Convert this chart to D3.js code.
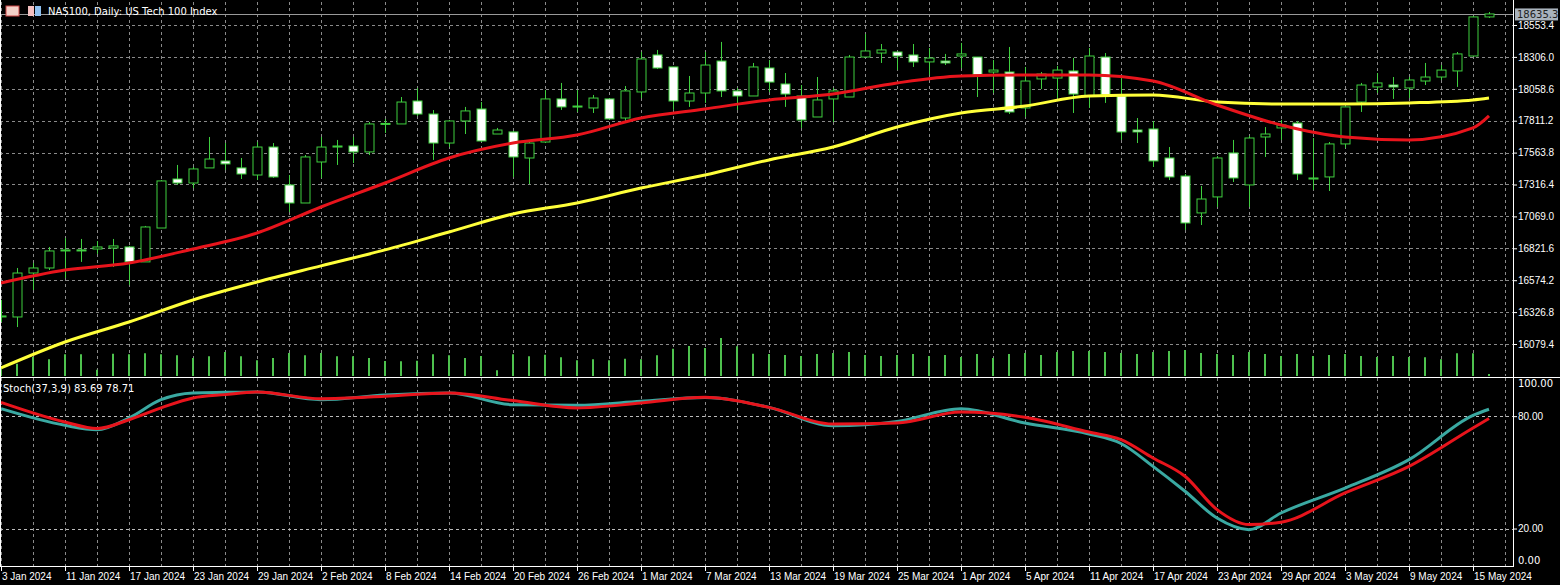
<!DOCTYPE html>
<html>
<head>
<meta charset="utf-8">
<script src="https://cdn.jsdelivr.net/npm/d3@7"></script>
<style>
body { margin: 0; background: #000; }
svg { display: block; font-family: "DejaVu Sans", sans-serif; }
</style>
</head>
<body>
<svg id="chart" width="1560" height="585"></svg>
<script>
// tages-kerzen NAS100, 5 Jan - 16 May 2024
let opens  = [16289,16289,16630,16669,16801,16809,16816,16824,16832,16716,16979,17359,17328,17445,17499,17445,17390,17607,17313,17173,
	17491,17607,17615,17569,17786,17786,17964,17863,17638,17809,17902,17708,17724,17522,17646,17980,17925,17910,17980,17832,
	18034,18321,18228,17964,18026,18274,18042,18003,18220,18096,18003,17840,17980,17995,18305,18336,18344,18321,18267,18274,
	18313,18305,18189,18189,17910,18135,18142,18197,18003,18305,18003,17739,17747,17522,17382,17096,17220,17561,17313,17685,
	17755,17793,17359,17375,17631,17956,18073,18088,18065,18119,18150,18197,18313,18616];
let highs  = [16421,16669,16708,16832,16902,16894,16878,16894,16840,16995,17351,17468,17452,17685,17638,17522,17646,17638,17390,17545,
	17685,17662,17685,17801,17825,17995,18065,17894,17817,17918,17956,17755,17731,17646,18049,18104,18049,18011,17987,18080,
	18344,18360,18228,18158,18344,18422,18065,18259,18282,18181,18088,18150,18065,18321,18484,18406,18344,18406,18375,18329,
	18414,18305,18282,18383,18228,18189,18236,18298,18375,18336,18142,17832,17809,17607,17398,17305,17537,17662,17693,17762,
	17817,17809,17677,17646,17925,18104,18181,18150,18150,18259,18243,18344,18623,18654];
let lows   = [16250,16211,16498,16653,16591,16716,16778,16677,16537,16716,16979,17313,17289,17445,17429,17359,17351,17367,17103,17173,
	17367,17468,17483,17545,17716,17786,17848,17507,17607,17708,17646,17708,17374,17320,17638,17895,17879,17871,17817,17809,
	17987,18212,17895,17918,17949,17995,17895,18003,18034,17918,17755,17840,17801,17995,18305,18259,18204,18228,18166,18243,
	18220,17995,18026,17863,17840,18057,17987,17871,17910,17949,17662,17638,17452,17351,16964,17002,17142,17336,17142,17530,
	17662,17351,17274,17266,17600,17879,18026,17980,17987,18088,18127,18073,18313,18608];
let closes = [16297,16630,16669,16801,16809,16801,16832,16840,16716,16987,17344,17328,17437,17514,17476,17398,17607,17375,17173,17530,
	17607,17615,17569,17786,17790,17956,17863,17638,17809,17887,17654,17739,17530,17638,17980,17918,17921,17987,17825,18042,
	18290,18220,17964,18026,18243,18042,18003,18228,18111,18018,17817,17972,18042,18305,18352,18360,18313,18267,18297,18259,
	18329,18166,18204,17879,18119,18173,18204,18018,18313,18011,17724,17724,17499,17375,17018,17204,17522,17367,17677,17708,
	17778,17398,17367,17631,17918,18088,18104,18073,18127,18150,18204,18329,18616,18639];
let volumes = [30,37,57,50,65,65,19,67,65,68,65,62,54,59,72,59,47,54,69,62,69,59,59,54,45,44,46,65,62,54,60,17,65,59,64,56,47,50,47,52,
	50,62,82,90,84,114,89,67,66,63,60,66,69,72,63,60,63,66,60,63,57,66,54,66,69,63,72,75,75,72,69,66,72,75,78,69,66,63,72,66,
	60,66,60,63,66,60,57,60,57,56,50,68,68,6];

let maIdx = [0,4,8,12,16,20,24,28,32,36,40,44,48,52,56,60,64,68,72,76,80,84,88,92,93];
let maRed = [16553,16653,16708,16816,16940,17142,17328,17522,17638,17700,17832,17902,17972,18018,18104,18158,18166,18166,18119,17933,17778,17685,17662,17755,17848];
let maYellow = [15894,16095,16250,16421,16560,16685,16809,16948,17088,17173,17289,17390,17507,17607,17762,17871,17925,18003,18011,17956,17941,17941,17949,17972,17987];

// stochastik
let stIdx = [0,4,6,8,10,12,14,16,20,24,28,32,36,40,44,48,52,56,60,64,68,70,72,74,76,78,80,84,88,92,93];
let stMain = [84.0,75.1,72.8,79.0,88.8,92.4,92.7,92.9,88.8,91.3,92.4,86.1,85.8,87.9,89.9,84.7,74.9,77.2,84.0,76.3,70.5,65.4,53.2,39.9,25.6,19.4,28.3,41.6,56.8,80.4,83.69];
let stSignal = [87.4,76.9,73.4,78.1,84.4,89.7,91.5,92.9,89.3,90.6,92.4,88.3,84.4,87.0,90.1,84.7,75.8,76.3,82.2,79.4,71.5,67.5,57.7,47.9,30.1,22.1,23.4,39.0,53.2,73.7,78.71];

let priceTicks = [18553.4,18306.0,18058.6,17811.2,17563.8,17316.4,17069.0,16821.6,16574.2,16326.8,16079.4];
let stochTicks = [100,80,20,0];
let dateLabels = ["3 Jan 2024","11 Jan 2024","17 Jan 2024","23 Jan 2024","29 Jan 2024","2 Feb 2024","8 Feb 2024","14 Feb 2024",
	"20 Feb 2024","26 Feb 2024","1 Mar 2024","7 Mar 2024","13 Mar 2024","19 Mar 2024","25 Mar 2024","1 Apr 2024","5 Apr 2024",
	"11 Apr 2024","17 Apr 2024","23 Apr 2024","29 Apr 2024","3 May 2024","9 May 2024","15 May 2024"];
let lastPrice = 18635.3;

let svg = d3.select("#chart");
let plotRight = 1513;
let green = "#3fcf3f";
let gridCol = "#8a8a8a";
let labelFont = "Liberation Sans";

let x = d3.scaleLinear().domain([0, 1]).range([1, 17]);
let y = d3.scaleLinear().domain([16079.4, 18553.4]).range([344, 25]);
let yv = d3.scaleLinear().domain([0, 120]).range([376, 336]);
let ys = d3.scaleLinear().domain([0, 100]).range([566, 378.7]);

svg.append("clipPath").attr("id", "cm").append("rect").attr("x", 0).attr("y", 2).attr("width", plotRight).attr("height", 374);
svg.append("clipPath").attr("id", "cs").append("rect").attr("x", 0).attr("y", 378).attr("width", plotRight).attr("height", 188);

let main = svg.append("g").attr("clip-path", "url(#cm)");
let stoch = svg.append("g").attr("clip-path", "url(#cs)");

//Gitter senkrecht
let vIdx = d3.range(0, 95, 2);
[[main, 2, 376], [stoch, 378, 566]].forEach(function(p) {
	p[0].selectAll(".vgrid").data(vIdx).enter().append("line")
		.attr("x1", function(d) {return Math.round(x(d)) + 0.5;})
		.attr("x2", function(d) {return Math.round(x(d)) + 0.5;})
		.attr("y1", p[1]).attr("y2", p[2])
		.attr("stroke", gridCol).attr("stroke-dasharray", "3,3");
});
//Gitter waagrecht
main.selectAll(".hgrid").data(priceTicks).enter().append("line")
	.attr("x1", 0).attr("x2", plotRight)
	.attr("y1", function(d) {return Math.round(y(d)) + 0.5;})
	.attr("y2", function(d) {return Math.round(y(d)) + 0.5;})
	.attr("stroke", gridCol).attr("stroke-dasharray", "3,3");
stoch.selectAll(".hgrid").data([80, 20]).enter().append("line")
	.attr("x1", 0).attr("x2", plotRight)
	.attr("y1", function(d) {return Math.round(ys(d)) + 0.5;})
	.attr("y2", function(d) {return Math.round(ys(d)) + 0.5;})
	.attr("stroke", "#bbb").attr("stroke-dasharray", "3,3");

// volumen
main.selectAll(".vol").data(volumes).enter().append("line")
	.attr("x1", function(d, i) {return x(i);})
	.attr("x2", function(d, i) {return x(i);})
	.attr("y1", yv(0)).attr("y2", function(d) {return yv(d);})
	.attr("stroke", "#4ec24e").attr("stroke-width", 2);

// letzter kurs
main.append("line").attr("x1", 0).attr("x2", plotRight)
	.attr("y1", Math.round(y(lastPrice)) + 0.5).attr("y2", Math.round(y(lastPrice)) + 0.5)
	.attr("stroke", "#9a9a9a");

// kerzen
let bars = d3.range(opens.length).map(function(i) {
	return {i: i, o: opens[i], h: highs[i], l: lows[i], c: closes[i]};
});
main.selectAll(".wick").data(bars).enter().append("line")
	.attr("x1", function(d) {return x(d.i) + 0.5;})
	.attr("x2", function(d) {return x(d.i) + 0.5;})
	.attr("y1", function(d) {return y(d.h);})
	.attr("y2", function(d) {return y(d.l);})
	.attr("stroke", green);
main.selectAll(".body").data(bars).enter().append("rect")
	.attr("x", function(d) {return x(d.i) - 4;})
	.attr("y", function(d) {return y(Math.max(d.o, d.c));})
	.attr("width", 9)
	.attr("height", function(d) {return Math.max(1, Math.abs(y(d.o) - y(d.c)));})
	.attr("fill", function(d) {return d.c >= d.o ? "#000" : "#fff";})
	.attr("stroke", green);

let lineMa = d3.line().curve(d3.curveMonotoneX)
	.x(function(d) {return x(d[0]);})
	.y(function(d) {return y(d[1]);});
main.append("path").datum(maIdx.map(function(d, k) {return [d, maYellow[k]];}))
	.attr("d", lineMa).attr("fill", "none").attr("stroke", "#ffff3a").attr("stroke-width", 3);
main.append("path").datum(maIdx.map(function(d, k) {return [d, maRed[k]];}))
	.attr("d", lineMa).attr("fill", "none").attr("stroke", "#e8141c").attr("stroke-width", 3);

let lineSt = d3.line().curve(d3.curveMonotoneX)
	.x(function(d) {return x(d[0]);})
	.y(function(d) {return ys(d[1]);});
stoch.append("path").datum(stIdx.map(function(d, k) {return [d, stMain[k]];}))
	.attr("d", lineSt).attr("fill", "none").attr("stroke", "#3aa9a2").attr("stroke-width", 3);
stoch.append("path").datum(stIdx.map(function(d, k) {return [d, stSignal[k]];}))
	.attr("d", lineSt).attr("fill", "none").attr("stroke", "#e8141c").attr("stroke-width", 3);

// rahmen
svg.append("line").attr("x1", 0).attr("x2", 1560).attr("y1", 377.5).attr("y2", 377.5).attr("stroke", "#fff");
svg.append("line").attr("x1", plotRight + 0.5).attr("x2", plotRight + 0.5).attr("y1", 0).attr("y2", 567).attr("stroke", "#fff");
svg.append("line").attr("x1", 0).attr("x2", plotRight).attr("y1", 566.5).attr("y2", 566.5).attr("stroke", "#fff");
svg.append("line").attr("x1", 0.5).attr("x2", 0.5).attr("y1", 0).attr("y2", 567).attr("stroke", "#fff");

// achsen rechts
let yaxis = d3.axisRight(y).tickValues(priceTicks).tickSize(4).tickFormat(d3.format(".1f"));
let gy = svg.append("g").attr("transform", "translate(" + plotRight + ",0)").call(yaxis);
let ysAxis = d3.axisRight(ys).tickValues([80, 20]).tickSize(4).tickFormat(d3.format(".2f"));
let gs = svg.append("g").attr("transform", "translate(" + plotRight + ",0)").call(ysAxis);
[gy, gs].forEach(function(g) {
	g.select(".domain").remove();
	g.selectAll("line").attr("stroke", "#fff");
	g.selectAll("text").attr("fill", "#fff").attr("font-size", 10).attr("x", 5);
});
svg.append("text").attr("x", 1518).attr("y", 387).attr("fill", "#fff").attr("font-size", 10).text(d3.format(".2f")(stochTicks[0]));
svg.append("text").attr("x", 1518).attr("y", 564).attr("fill", "#fff").attr("font-size", 10).text(d3.format(".2f")(stochTicks[3]));

// letzter kurs label
svg.append("rect").attr("x", 1515).attr("y", y(lastPrice) - 6).attr("width", 43).attr("height", 12).attr("fill", "#a9b3bd");
svg.append("text").attr("x", 1517).attr("y", y(lastPrice) + 4).attr("font-size", 10).attr("fill", "#222").text(lastPrice.toFixed(1));

// x achse
let gx = svg.append("g");
gx.selectAll(".xl").data(dateLabels).enter().append("text")
	.attr("x", function(d, k) {return x(k * 4) + 1;})
	.attr("y", 580).attr("fill", "#fff").attr("font-family", labelFont).attr("font-size", 10).text(function(d) {return d;});
gx.selectAll(".xt").data(dateLabels).enter().append("line")
	.attr("x1", function(d, k) {return Math.round(x(k * 4)) + 0.5;})
	.attr("x2", function(d, k) {return Math.round(x(k * 4)) + 0.5;})
	.attr("y1", 567).attr("y2", 571).attr("stroke", "#fff");

// titel
let ic = svg.append("g");
ic.append("rect").attr("x", 6).attr("y", 6).attr("width", 13).attr("height", 10).attr("fill", "#f4d0c8").attr("stroke", "#c44");
ic.append("rect").attr("x", 28).attr("y", 6).attr("width", 6).attr("height", 10).attr("fill", "#f4c0c0");
ic.append("rect").attr("x", 35).attr("y", 6).attr("width", 6).attr("height", 10).attr("fill", "#8fc0ef");
svg.append("text").attr("x", 48).attr("y", 15).attr("fill", "#fff").attr("font-size", 10)
	.text("NAS100, Daily:  US Tech 100 Index");
svg.append("text").attr("x", 3).attr("y", 392).attr("fill", "#fff").attr("font-size", 10)
	.text("Stoch(37,3,9) " + stMain[stMain.length - 1].toFixed(2) + " " + stSignal[stSignal.length - 1].toFixed(2));
</script>
</body>
</html>
